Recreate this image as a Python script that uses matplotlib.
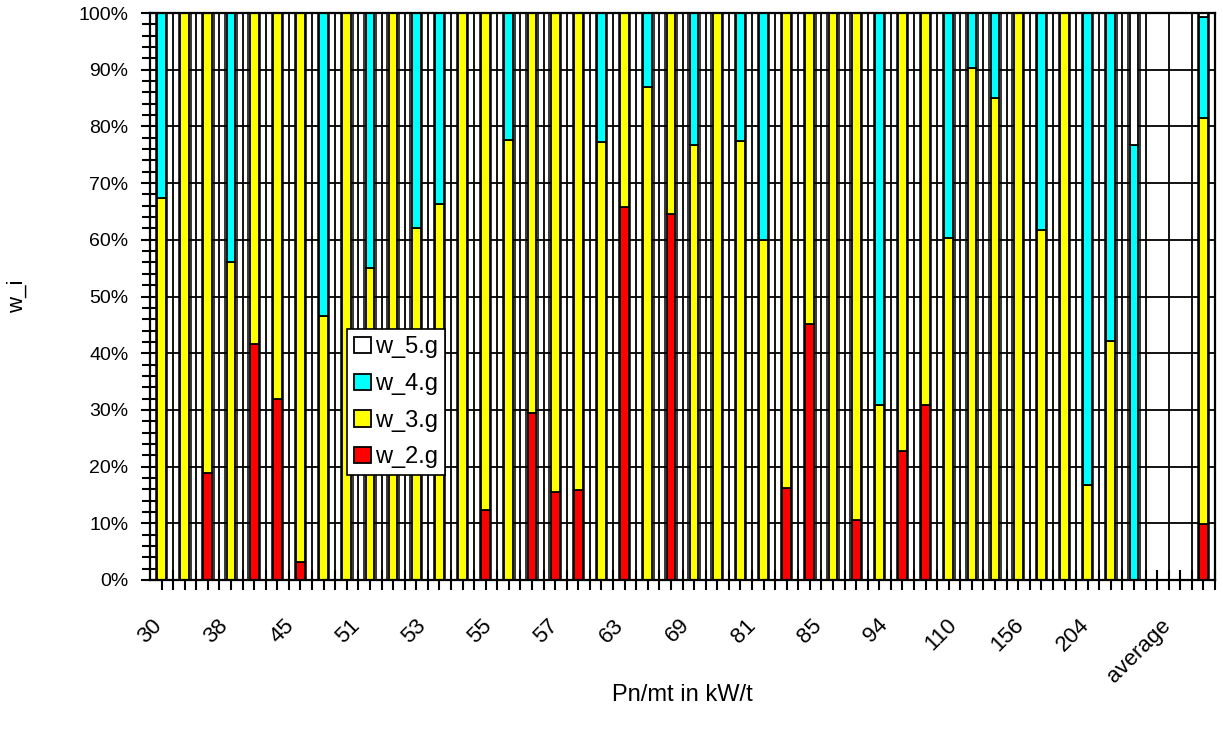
import numpy as np
import matplotlib
matplotlib.use("Agg")
from matplotlib import pyplot as plt
from matplotlib.ticker import MultipleLocator, FixedLocator, FuncFormatter

plt.rcParams["font.family"] = ["Liberation Sans", "DejaVu Sans"]

# the 16 labels are spread evenly along the axis, not on every slot
tick_labels = ["30", "38", "45", "51", "53", "55", "57", "63",
               "69", "81", "85", "94", "110", "156", "204", "average"]

# shares in % per category (46 categories, two empty before "average")
w_2 = [0, 0, 18.9, 0, 41.6, 32.0, 3.1, 0, 0, 0, 0, 0, 0, 0,
       12.3, 0, 29.5, 15.5, 15.9, 0, 65.8, 0, 64.5, 0, 0, 0, 0,
       16.2, 45.1, 0, 10.5, 0, 22.8, 30.9, 0, 0, 0, 0, 0, 0, 0, 0, 0,
       0, 0, 9.8]
w_3 = [67.3, 100, 81.1, 56.1, 58.4, 68.0, 96.9, 46.6, 100, 55.0, 100, 62.1, 66.3, 100,
       87.7, 77.6, 70.5, 84.5, 84.1, 77.2, 34.2, 87.0, 35.5, 76.8, 100, 77.5, 60.0,
       83.8, 54.9, 100, 89.5, 30.9, 77.2, 69.1, 60.3, 90.3, 85.0, 100, 61.7, 100, 16.7, 42.2, 0,
       0, 0, 71.7]
w_4 = [32.7, 0, 0, 43.9, 0, 0, 0, 53.4, 0, 45.0, 0, 37.9, 33.7, 0,
       0, 22.4, 0, 0, 0, 22.8, 0, 13.0, 0, 23.2, 0, 22.5, 40.0,
       0, 0, 0, 0, 69.1, 0, 0, 39.7, 9.7, 15.0, 0, 38.3, 0, 83.3, 57.8, 76.8,
       0, 0, 17.8]
w_5 = [0] * 42 + [23.2, 0, 0, 0.7]

series = [("w_2.g", w_2, "#ff0000"), ("w_3.g", w_3, "#ffff00"),
          ("w_4.g", w_4, "#00ffff"), ("w_5.g", w_5, "#ffffff")]

n = len(w_2)
x = np.arange(n)
totals = np.array(w_2) + np.array(w_3) + np.array(w_4) + np.array(w_5)

fig = plt.figure(figsize=(12.23, 7.38), dpi=100)
ax = fig.add_axes([150 / 1223, 1 - 580 / 738, 1065 / 1223, 567 / 738])

# grid: slot borders everywhere, thin lines beside each filled bar
ax.vlines(x[:-1] + 0.5, 0, 100, colors="black", lw=1.3, zorder=1)
filled = x[totals > 0]
ax.vlines(np.concatenate([filled - 0.25, filled + 0.25]), 0, 100, colors="black", lw=1.1, zorder=1)
for yv in np.arange(10, 100, 10):
    ax.axhline(yv, color="black", lw=1.3, zorder=1)

bottom = np.zeros(n)
handles = []
for name, vals, color in series:
    vals = np.array(vals, dtype=float)
    b = ax.bar(x, vals, width=0.38, bottom=bottom, color=color, edgecolor="black",
               linewidth=1.3, label=name, zorder=2)
    handles.append(b)
    bottom += vals

ax.set_xlim(-0.5, n - 0.5)
ax.set_ylim(0, 100)

label_pos = -0.5 + np.arange(len(tick_labels)) * n / 16.15
ax.xaxis.set_major_locator(FixedLocator(label_pos))
ax.set_xticklabels(tick_labels, rotation=45, ha="center", va="top")
ax.xaxis.set_minor_locator(FixedLocator(np.arange(-0.5, n, 0.5)))
ax.yaxis.set_major_locator(MultipleLocator(10))
ax.yaxis.set_minor_locator(MultipleLocator(2))
ax.yaxis.set_major_formatter(FuncFormatter(lambda v, p: f"{v:.0f}%"))

ax.tick_params(axis="both", which="both", direction="inout", width=1.5, color="black")
ax.tick_params(axis="x", which="major", length=0, labelsize=16, pad=25)
ax.tick_params(axis="x", which="minor", length=14)
ax.tick_params(axis="y", which="major", length=13, labelsize=14, pad=9)
ax.tick_params(axis="y", which="minor", length=11)
for sp in ax.spines.values():
    sp.set_linewidth(1.6)
    sp.set_zorder(3)

ax.set_xlabel("Pn/mt in kW/t", fontsize=17)
ax.xaxis.set_label_coords(0.5, (580 - 684) / 567)
ax.set_ylabel("w_i", fontsize=16)
ax.yaxis.set_label_coords((28 - 150) / 1065, 0.5)

leg = ax.legend(handles=handles[::-1], loc="upper left", bbox_to_anchor=(0.185, 0.442),
                fontsize=17, frameon=True, fancybox=False, framealpha=1, edgecolor="black",
                handlelength=0.7, handleheight=0.7, handletextpad=0.2, labelspacing=0.62,
                borderpad=0.3, borderaxespad=0)
leg.get_frame().set_linewidth(1.2)
leg.set_zorder(5)

fig.savefig("out.png", dpi=100)
